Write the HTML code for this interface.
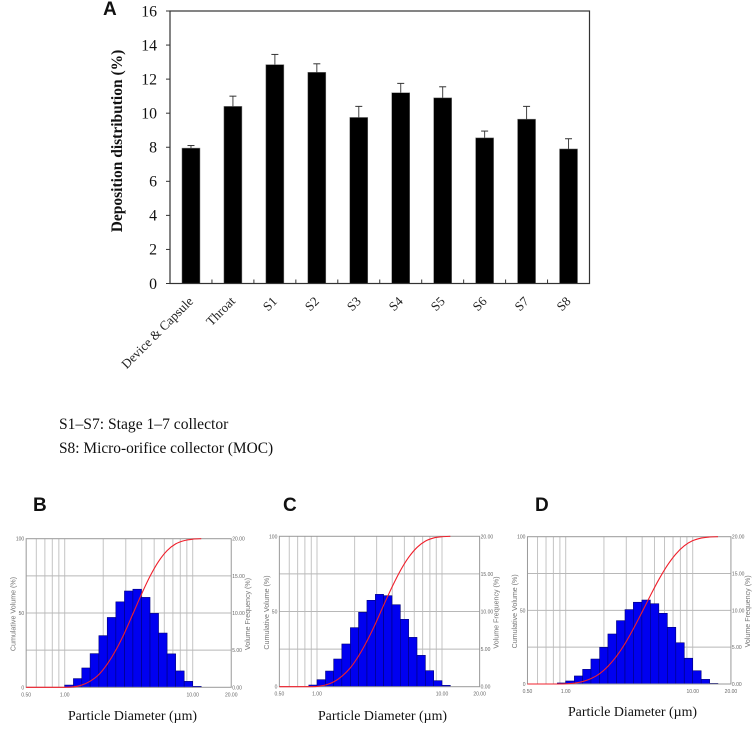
<!DOCTYPE html>
<html>
<head>
<meta charset="utf-8">
<style>
html,body{margin:0;padding:0;background:#fff;}
svg{display:block;}
text{font-family:"Liberation Serif",serif;}
.sans{font-family:"Liberation Sans",sans-serif;}
</style>
</head>
<body>
<svg id="figure" width="753" height="731" viewBox="0 0 753 731" xmlns="http://www.w3.org/2000/svg">
<text class="sans" x="103" y="15" font-size="19" font-weight="700" fill="#111">A</text>
<text class="sans" x="33" y="511" font-size="19" font-weight="700" fill="#111">B</text>
<text class="sans" x="283" y="511" font-size="19" font-weight="700" fill="#111">C</text>
<text class="sans" x="535" y="511" font-size="19" font-weight="700" fill="#111">D</text>
<text transform="translate(122,141) rotate(-90)" text-anchor="middle" font-size="15.5" font-weight="700" fill="#111">Deposition distribution (%)</text>
<text x="59" y="429" font-size="15.6" fill="#111">S1–S7: Stage 1–7 collector</text>
<text x="59" y="453" font-size="15.4" fill="#111">S8: Micro-orifice collector (MOC)</text>
<text x="132.5" y="720" text-anchor="middle" font-size="13.9" fill="#111">Particle Diameter (µm)</text>
<text x="382.5" y="720" text-anchor="middle" font-size="13.9" fill="#111">Particle Diameter (µm)</text>
<text x="632.5" y="716" text-anchor="middle" font-size="13.9" fill="#111">Particle Diameter (µm)</text>
</svg>
<script>
// Panel A data
const depositionCategories = ["Device & Capsule", "Throat", "S1", "S2", "S3", "S4", "S5", "S6", "S7", "S8"];
const depositionValues = [7.95, 10.4, 12.85, 12.4, 9.75, 11.2, 10.9, 8.55, 9.65, 7.9];
const depositionErrors = [0.15, 0.6, 0.6, 0.5, 0.65, 0.55, 0.65, 0.4, 0.75, 0.6];
const depositionTicks = [0, 2, 4, 6, 8, 10, 12, 14, 16];

// Histogram panels: bin edges (µm), volume frequency (%), cumulative volume (%) at each bin's upper edge
const panelBEdges = [1.00, 1.17, 1.36, 1.58, 1.85, 2.15, 2.51, 2.93, 3.41, 3.98, 4.64, 5.41, 6.31, 7.36, 8.58, 10.0, 11.66];
const panelBFrequency = [0.3, 1.17, 2.6, 4.53, 6.95, 9.4, 11.5, 12.96, 13.2, 12.1, 9.95, 7.3, 4.5, 2.2, 0.8, 0.13];
const panelBCumulative = [0.3, 1.5, 4.1, 8.6, 15.6, 25, 36.5, 49.4, 62.6, 74.7, 84.7, 92, 96.5, 98.7, 99.7, 100];

const panelCEdges = [0.86, 1.00, 1.17, 1.36, 1.58, 1.85, 2.15, 2.51, 2.93, 3.41, 3.98, 4.64, 5.41, 6.31, 7.36, 8.58, 10.0, 11.66];
const panelCFrequency = [0.22, 0.93, 2.08, 3.68, 5.68, 7.85, 9.89, 11.49, 12.28, 12.1, 10.9, 8.96, 6.56, 4.17, 2.13, 0.8, 0.18];
const panelCCumulative = [0.2, 1.15, 3.2, 6.9, 12.6, 20.4, 30.3, 41.8, 54.1, 66.2, 77.1, 86, 92.6, 96.8, 98.9, 99.7, 100];

const panelDEdges = [0.86, 1.00, 1.17, 1.36, 1.58, 1.85, 2.15, 2.51, 2.93, 3.41, 3.98, 4.64, 5.41, 6.31, 7.36, 8.58, 10.0, 11.66, 13.6, 15.8];
const panelDFrequency = [0.14, 0.41, 1.09, 1.99, 3.39, 4.98, 6.79, 8.6, 10.1, 11.1, 11.4, 10.9, 9.6, 7.7, 5.6, 3.5, 1.8, 0.63, 0.09];
const panelDCumulative = [0.14, 0.55, 1.64, 3.63, 7.02, 12, 18.8, 27.4, 37.5, 48.6, 60, 70.9, 80.5, 88.2, 93.8, 97.3, 99.1, 99.8, 100];

const gridDiameters = [0.6, 0.7, 0.8, 0.9, 1, 2, 3, 4, 5, 6, 7, 8, 9, 10];
const xTickValues = [0.5, 1, 10, 20];
const xTickLabels = ["0.50", "1.00", "10.00", "20.00"];
const cumulativeTicks = [0, 50, 100];
const cumulativeGridValues = [25, 50, 75];
const frequencyTicks = [0, 5, 10, 15, 20];

const svg = document.getElementById('figure');
const NS = 'http://www.w3.org/2000/svg';
function mk(tag, attrs, text) {
  const el = document.createElementNS(NS, tag);
  for (const k in attrs) el.setAttribute(k, attrs[k]);
  if (text !== undefined) el.textContent = text;
  svg.appendChild(el);
  return el;
}

// ----- Panel A -----
const aLeft = 170, aRight = 589.5, aTop = 11, aBottom = 283.5;
const aMax = 16;
function aY(v) { return aBottom - (v / aMax) * (aBottom - aTop); }
function aBand() { return (aRight - aLeft) / depositionCategories.length; }
function aX(i) { return aLeft + aBand() * (i + 0.5); }

depositionValues.forEach(function (v, i) {
  const barW = 18;
  const bar = mk('rect', { x: aX(i) - barW / 2, y: aY(v), width: barW, height: aBottom - aY(v), fill: '#000', stroke: '#777', 'stroke-width': 0.5 });
  
  
  const top = aY(v + depositionErrors[i]);
  const stem = mk('line', { x1: aX(i), x2: aX(i), y1: aY(v), y2: top, stroke: '#444', 'stroke-width': 1 });
  
  
  const cap = mk('line', { x1: aX(i) - 3.5, x2: aX(i) + 3.5, y1: top, y2: top, stroke: '#333', 'stroke-width': 1 });
  
  
});

const aFrame = mk('rect', { x: aLeft, y: aTop, width: aRight - aLeft, height: aBottom - aTop, fill: 'none', stroke: '#333', 'stroke-width': 1.2 });



depositionTicks.forEach(function (t) {
  const tick = mk('line', { x1: aLeft - 4, x2: aLeft, y1: aY(t), y2: aY(t), stroke: '#333', 'stroke-width': 1 });
  
  
  const label = mk('text', { x: 157, y: aY(t) + 5.3, 'text-anchor': 'end', 'font-size': 15.8, fill: '#111' }, String(t));
  
  
});

depositionCategories.forEach(function (c, i) {
  if (i > 0) {
    const bx = aLeft + aBand() * i;
    const tick = mk('line', { x1: bx, x2: bx, y1: aBottom - 4, y2: aBottom, stroke: '#333', 'stroke-width': 1 });
    
    
  }
  const lx = aX(i) + 3, ly = 302;
  const label = mk('text', { transform: 'translate(' + lx + ',' + ly + ') rotate(-45)', 'text-anchor': 'end', 'font-size': 13, fill: '#222' }, c);
  
  
});

// ----- Histogram panels -----
function drawPanel(name, box, edges, frequency, cumulative) {
  function xs(d) { return box.x1 + (Math.log10(d) * box.decade); }
  function yFreq(v) { return box.bottom - (v / 20) * (box.bottom - box.top); }
  function yCum(v) { return box.bottom - (v / 100) * (box.bottom - box.top); }
  const left = xs(0.5), right = xs(20);

  gridDiameters.forEach(function (d) {
    const g = mk('line', { x1: xs(d), x2: xs(d), y1: box.top, y2: box.bottom, stroke: '#c4c4c4', 'stroke-width': 1 });
    
    
  });
  cumulativeGridValues.forEach(function (v) {
    const g = mk('line', { x1: left, x2: right, y1: yCum(v), y2: yCum(v), stroke: '#b8b8b8', 'stroke-width': 1 });
    
    
  });

  frequency.forEach(function (v, i) {
    const x0 = xs(edges[i]), x1 = xs(edges[i + 1]);
    const r = mk('rect', { x: x0, y: yFreq(v), width: x1 - x0, height: box.bottom - yFreq(v), fill: '#0000f0', stroke: '#00007a', 'stroke-width': 0.6 });
    
    
  });

  const frame = mk('rect', { x: left, y: box.top, width: right - left, height: box.bottom - box.top, fill: 'none', stroke: '#999', 'stroke-width': 1 });
  
  

  // cumulative curve (Catmull-Rom through the points)
  const pts = [[xs(edges[0]), yCum(0)]];
  cumulative.forEach(function (v, i) { pts.push([xs(edges[i + 1]), yCum(v)]); });
  let d = 'M' + left + ' ' + yCum(0) + ' L' + pts[0][0] + ' ' + pts[0][1];
  for (let i = 0; i < pts.length - 1; i++) {
    const p0 = pts[Math.max(i - 1, 0)], p1 = pts[i], p2 = pts[i + 1], p3 = pts[Math.min(i + 2, pts.length - 1)];
    d += ' C' + (p1[0] + (p2[0] - p0[0]) / 6) + ' ' + Math.min(yCum(0), p1[1] + (p2[1] - p0[1]) / 6) + ' ' +
         (p2[0] - (p3[0] - p1[0]) / 6) + ' ' + (p2[1] - (p3[1] - p1[1]) / 6) + ' ' + p2[0] + ' ' + p2[1];
  }
  const curve = mk('path', { d: d, fill: 'none', stroke: '#f0202c', 'stroke-width': 1.1 });
  
  

  xTickValues.forEach(function (t, i) {
    const l = mk('text', { x: xs(t), y: box.bottom + 9, 'text-anchor': 'middle', 'font-size': 5, fill: '#666', class: 'sans' }, xTickLabels[i]);
    
    
  });
  cumulativeTicks.forEach(function (t) {
    const l = mk('text', { x: left - 2, y: yCum(t) + 2, 'text-anchor': 'end', 'font-size': 5, fill: '#666', class: 'sans' }, String(t));
    
    
  });
  frequencyTicks.forEach(function (t) {
    const l = mk('text', { x: right + 1, y: yFreq(t) + 2, 'font-size': 5, fill: '#666', class: 'sans' }, t.toFixed(2));
    
    
  });

  const my = (box.top + box.bottom) / 2;
  const lt = mk('text', { transform: 'translate(' + (left - 10.5) + ',' + (my + 1) + ') rotate(-90)', 'text-anchor': 'middle', 'font-size': 7.1, fill: '#777', class: 'sans' }, 'Cumulative Volume (%)');
  
  
  const rt = mk('text', { transform: 'translate(' + (right + 19) + ',' + (my + 1) + ') rotate(-90)', 'text-anchor': 'middle', 'font-size': 7.1, fill: '#777', class: 'sans' }, 'Volume Frequency (%)');
  
  
}

drawPanel('panel-b', { x1: 64.7, decade: 128, top: 538.7, bottom: 687.3 }, panelBEdges, panelBFrequency, panelBCumulative);
drawPanel('panel-c', { x1: 317, decade: 125, top: 536.3, bottom: 686.7 }, panelCEdges, panelCFrequency, panelCCumulative);
drawPanel('panel-d', { x1: 565.7, decade: 127, top: 536.7, bottom: 684 }, panelDEdges, panelDFrequency, panelDCumulative);
</script>
</body>
</html>
